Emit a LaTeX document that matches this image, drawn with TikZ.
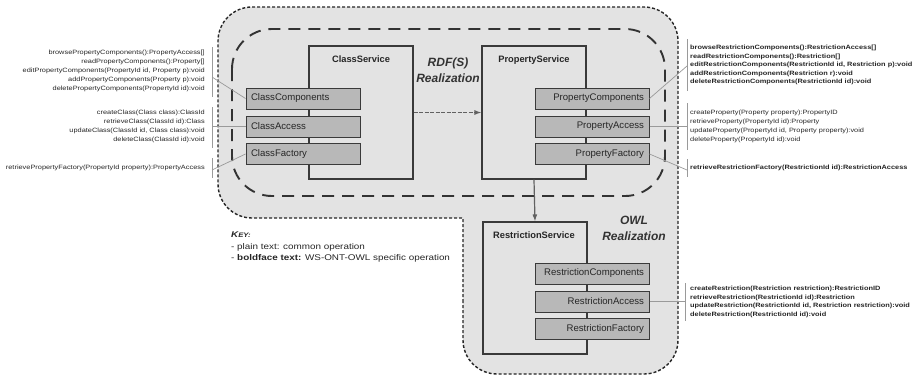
\documentclass[tikz,border=0pt]{standalone}
\usepackage{fontspec}
\setmainfont{Liberation Sans}
\newfontfamily\opsfont[FakeStretch=1.19]{Liberation Sans}
\usetikzlibrary{arrows.meta}
\definecolor{bggray}{HTML}{E3E3E3}
\definecolor{compgray}{HTML}{B8B8B8}
\definecolor{linedark}{HTML}{3A3A3A}
\definecolor{conngray}{HTML}{9A9A9A}
\begin{document}
\begin{tikzpicture}[x=1pt,y=-1pt,
  svc/.style={draw=linedark,line width=1.1pt,fill=bggray,minimum width=104pt,minimum height=133pt,inner sep=0pt},
  svctitle/.style={font=\fontsize{9.3}{11}\selectfont\bfseries,text=black!85,inner sep=0pt},
  comp/.style={draw=linedark,line width=1pt,fill=compgray,minimum width=114pt,minimum height=21pt,inner sep=5pt,font=\fontsize{9.6}{11}\selectfont,text=black!85},
  compl/.style={comp,text width=104pt,align=left},
  compr/.style={comp,text width=104pt,align=right},
  ops/.style={font=\opsfont\fontsize{6.2}{9}\selectfont,text=black!85,inner sep=0pt},
  opsb/.style={ops,font=\opsfont\fontsize{6.2}{8.6}\selectfont\bfseries},
  bar/.style={draw=conngray,line width=0.6pt},
  conn/.style={draw=conngray,line width=0.7pt},
  realiz/.style={font=\fontsize{12}{16}\selectfont\bfseries\itshape,text=black!80,align=center,inner sep=0pt},
  keytext/.style={anchor=west,inner sep=0pt,font=\opsfont\fontsize{8.3}{11}\selectfont,text=black!85},
  arr/.style={draw=linedark!80,line width=1.2pt,-{Latex[length=7pt,width=5pt]}}
]
\useasboundingbox (0,0) rectangle (916,378);

% outer dotted region
\path[draw=black!85,line width=1.4pt,dash pattern=on 3pt off 2pt,fill=bggray]
  (463,300) [rounded corners=34] -- (463,374) -- (678,374) -- (678,7) -- (218,7) -- (218,218) [sharp corners] -- (463,218) -- cycle;

% inner dashed RDF(S) region
\draw[draw=black!80,line width=1.9pt,dash pattern=on 12pt off 8pt,rounded corners=40] (232,29) rectangle (665,196);

% services
\node[svc] (cs) at (361,112.5) {};
\node[svctitle] (cst) at (361,59) {ClassService};
\node[svc] (ps) at (534,112.5) {};
\node[svctitle] (pst) at (534,60) {PropertyService};
\node[svc,minimum height=132pt] (rs) at (535,288) {};
\node[svctitle] (rst) at (534,235) {RestrictionService};

% components
\node[compl] (cc) at (303,98.5) {ClassComponents};
\node[compl] (ca) at (303,126.5) {ClassAccess};
\node[compl] (cf) at (303,154) {ClassFactory};
\node[compr] (pc) at (592,98.5) {PropertyComponents};
\node[compr] (pa) at (592,126.5) {PropertyAccess};
\node[compr] (pf) at (592,154) {PropertyFactory};
\node[compr] (rc) at (592,273.5) {RestrictionComponents};
\node[compr] (ra) at (592,301.5) {RestrictionAccess};
\node[compr] (rf) at (592,329) {RestrictionFactory};

% realization labels
\node[realiz] (rdfl) at (448,70) {RDF(S)\\Realization};
\node[realiz] (owll) at (634,228.5) {OWL\\Realization};

% arrows
\draw[arr,dash pattern=on 4pt off 1.5pt] (cs.east) -- (ps.west);
\draw[arr] (ps.south) -- (rs.north);

% operation texts, left side
\node[ops,align=right,anchor=east] (lo1) at (205,71) {browsePropertyComponents():PropertyAccess[]\\readPropertyComponents():Property[]\\editPropertyComponents(PropertyId id, Property p):void\\addPropertyComponents(Property p):void\\deletePropertyComponents(PropertyId id):void};
\node[ops,align=right,anchor=east] (lo2) at (205,126.5) {createClass(Class class):ClassId\\retrieveClass(ClassId id):Class\\updateClass(ClassId id, Class class):void\\deleteClass(ClassId id):void};
\node[ops,align=right,anchor=east] (lo3) at (205,168) {retrievePropertyFactory(PropertyId property):PropertyAccess};

% operation texts, right side
\node[opsb,align=left,anchor=west] (ro1) at (690,65) {browseRestrictionComponents():RestrictionAccess[]\\readRestrictionComponents():Restriction[]\\editRestrictionComponents(RestrictionId id, Restriction p):void\\addRestrictionComponents(Restriction r):void\\deleteRestrictionComponents(RestrictionId id):void};
\node[ops,align=left,anchor=west] (ro2) at (690,126.5) {createProperty(Property property):PropertyID\\retrieveProperty(PropertyId id):Property\\updateProperty(PropertyId id, Property property):void\\deleteProperty(PropertyId id):void};
\node[opsb,align=left,anchor=west] (ro3) at (690,168) {retrieveRestrictionFactory(RestrictionId id):RestrictionAccess};
\node[opsb,align=left,anchor=west] (ro4) at (690,302) {createRestriction(Restriction restriction):RestrictionID\\retrieveRestriction(RestrictionId id):Restriction\\updateRestriction(RestrictionId id, Restriction restriction):void\\deleteRestriction(RestrictionId id):void};

% bars
\coordinate (lb1a) at (212,47);  \coordinate (lb1b) at (212,97);
\coordinate (lb2a) at (212,107); \coordinate (lb2b) at (212,148);
\coordinate (lb3a) at (212,158); \coordinate (lb3b) at (212,178);
\coordinate (rb1a) at (687,39);  \coordinate (rb1b) at (687,91);
\coordinate (rb2a) at (687,103); \coordinate (rb2b) at (687,150);
\coordinate (rb3a) at (687,159); \coordinate (rb3b) at (687,177);
\coordinate (rb4a) at (685,283); \coordinate (rb4b) at (685,321);
\draw[bar] (lb1a) -- (lb1b);
\draw[bar] (lb2a) -- (lb2b);
\draw[bar] (lb3a) -- (lb3b);
\draw[bar] (rb1a) -- (rb1b);
\draw[bar] (rb2a) -- (rb2b);
\draw[bar] (rb3a) -- (rb3b);
\draw[bar] (rb4a) -- (rb4b);

% connectors
\coordinate (lc1) at (212,77);
\coordinate (lc2) at (212,126.5);
\coordinate (lc3) at (212,170);
\coordinate (rc1) at (687,66);
\coordinate (rc2) at (687,126.5);
\coordinate (rc3) at (687,170);
\coordinate (rc4) at (685,301.5);
\draw[conn] (lc1) -- (cc.west);
\draw[conn] (lc2) -- (ca.west);
\draw[conn] (lc3) -- (cf.west);
\draw[conn] (pc.east) -- (rc1);
\draw[conn] (pa.east) -- (rc2);
\draw[conn] (pf.east) -- (rc3);
\draw[conn] (ra.east) -- (rc4);

% key
\node[keytext,font=\opsfont\fontsize{8.3}{11}\selectfont\bfseries\itshape] (keyt) at (231,235) {K\fontsize{6.5}{8}\selectfont EY:};
\node[keytext] (key1) at (231,247) {- plain text: common operation};
\node[keytext] (key2) at (231,258) {- \textbf{boldface text:} WS-ONT-OWL specific operation};
\end{tikzpicture}
\end{document}
